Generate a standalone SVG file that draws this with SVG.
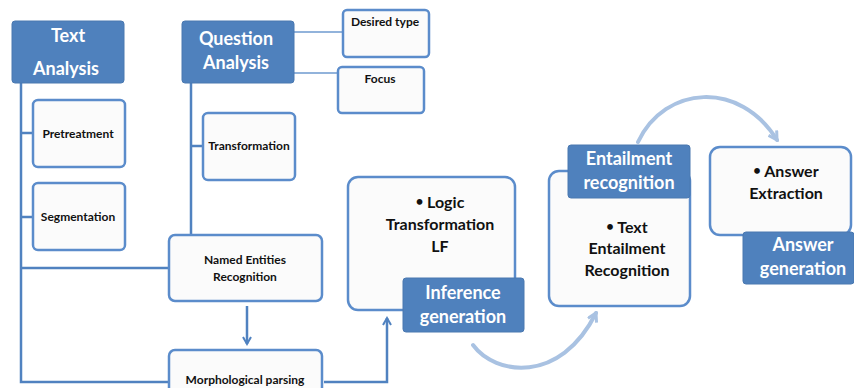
<svg xmlns="http://www.w3.org/2000/svg" width="854" height="388" viewBox="0 0 854 388">
<style>
.hd{fill:#4f81bd;stroke:#4a78b0;stroke-width:1}
.bx{fill:#fbfbfb;stroke:#5b8ccb;stroke-width:2.5}
.ln{fill:none;stroke:#5082c0;stroke-width:2.5}
.lt{fill:none;stroke:#6f9ad0;stroke-width:1.5}
.arc{fill:none;stroke:#a9c2e2;stroke-width:4;stroke-linecap:round}
.wt{font-family:Lato,"Liberation Sans",sans-serif;font-weight:bold;fill:#fff;text-anchor:middle}
.bk{font-family:Lato,"Liberation Sans",sans-serif;font-weight:bold;fill:#111;text-anchor:middle}
.sm{font-size:12px}
.md{font-size:16px}
.lg{font-size:18px}
.bu{font-size:13px;baseline-shift:2px}
</style>
<defs>
<marker id="ah" viewBox="0 0 10 10" refX="8" refY="5" markerWidth="4" markerHeight="4" orient="auto">
<path d="M1,1 L8,5 L1,9" fill="none" stroke="#5082c0" stroke-width="2"/>
</marker>
<marker id="ah2" viewBox="0 0 10 10" refX="8" refY="5" markerWidth="3" markerHeight="3" orient="auto">
<path d="M1,1 L8,5 L1,9" fill="none" stroke="#a9c2e2" stroke-width="2.5"/>
</marker>
</defs>
<g id="connectors">
<path class="ln" d="M21,83 V382 H168"/>
<path class="ln" d="M21,133 H33 M21,217 H33 M21,268 H169"/>
<path class="ln" d="M191,83 V235 M191,146 H203"/>
<path class="lt" d="M294,32 H343 M294,73 H338"/>
<path class="ln" d="M247,306 V344" marker-end="url(#ah)"/>
<path class="ln" d="M324,382 H387 V318" marker-end="url(#ah)"/>
<path class="arc" d="M473,345 C495,375 560,385 596,313" marker-end="url(#ah2)"/>
<path class="arc" d="M638,142 C665,85 740,80 777,140" marker-end="url(#ah2)"/>
</g>
<g id="text-analysis">
<rect class="hd" x="12" y="21" width="112" height="62" rx="3"/>
<text class="wt lg" x="68" y="42">Text</text>
<text class="wt lg" x="66" y="75">Analysis</text>
</g>
<g id="question-analysis">
<rect class="hd" x="182" y="21" width="112" height="62" rx="3"/>
<text class="wt lg" x="236" y="45">Question</text>
<text class="wt lg" x="236" y="69">Analysis</text>
</g>
<g id="desired-type">
<rect class="bx" x="343" y="10" width="86" height="47" rx="4"/>
<text class="bk sm" x="385" y="26">Desired type</text>
</g>
<g id="focus">
<rect class="bx" x="338" y="67" width="86" height="46" rx="4"/>
<text class="bk sm" x="380" y="83">Focus</text>
</g>
<g id="pretreatment">
<rect class="bx" x="33" y="100" width="92" height="67" rx="5"/>
<text class="bk sm" x="78" y="138">Pretreatment</text>
</g>
<g id="segmentation">
<rect class="bx" x="33" y="183" width="92" height="67" rx="5"/>
<text class="bk sm" x="78" y="221">Segmentation</text>
</g>
<g id="transformation">
<rect class="bx" x="203" y="113" width="92" height="67" rx="5"/>
<text class="bk sm" x="249" y="150">Transformation</text>
</g>
<g id="ner">
<rect class="bx" x="169" y="235" width="153" height="66" rx="6"/>
<text class="bk sm" x="245" y="264">Named Entities</text>
<text class="bk sm" x="245" y="281">Recognition</text>
</g>
<g id="morph">
<rect class="bx" x="169" y="350" width="153" height="60" rx="6"/>
<text class="bk sm" x="245" y="384">Morphological parsing</text>
</g>
<g id="inference">
<rect class="bx" x="348" y="177" width="167" height="133" rx="10"/>
<text class="bk md" x="440" y="208"><tspan class="bu">•</tspan> Logic</text>
<text class="bk md" x="440" y="230">Transformation</text>
<text class="bk md" x="440" y="252">LF</text>
<rect class="hd" x="403" y="278" width="121" height="54" rx="3"/>
<text class="wt lg" x="463" y="299">Inference</text>
<text class="wt lg" x="463" y="323">generation</text>
</g>
<g id="entailment">
<rect class="bx" x="549" y="171" width="141" height="135" rx="10"/>
<text class="bk md" x="627" y="233"><tspan class="bu">•</tspan> Text</text>
<text class="bk md" x="627" y="254">Entailment</text>
<text class="bk md" x="627" y="276">Recognition</text>
<rect class="hd" x="568" y="145" width="122" height="53" rx="3"/>
<text class="wt lg" x="629" y="165">Entailment</text>
<text class="wt lg" x="629" y="189">recognition</text>
</g>
<g id="answer">
<rect class="bx" x="710" y="147" width="141" height="88" rx="10"/>
<text class="bk md" x="786" y="177"><tspan class="bu">•</tspan> Answer</text>
<text class="bk md" x="786" y="199">Extraction</text>
<rect class="hd" x="743" y="232" width="111" height="52" rx="3"/>
<text class="wt lg" x="803" y="251">Answer</text>
<text class="wt lg" x="803" y="275">generation</text>
</g>
</svg>
